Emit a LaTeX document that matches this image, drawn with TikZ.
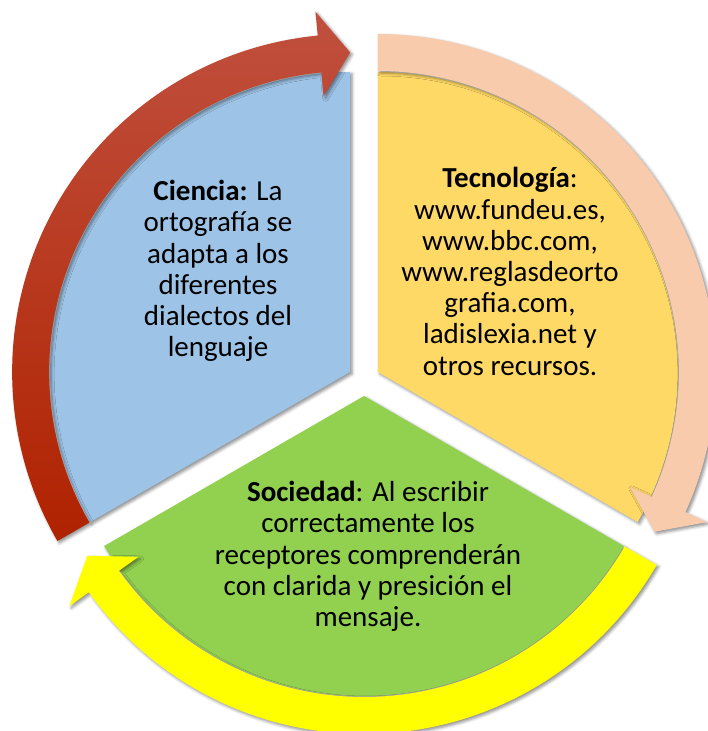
\documentclass[tikz,border=0pt]{standalone}
\usepackage{fontspec}
\setmainfont{Carlito}
\usetikzlibrary{calc,shadows.blur}
\definecolor{cblue}{RGB}{157,195,230}
\definecolor{corange}{RGB}{255,217,102}
\definecolor{cgreen}{RGB}{146,208,80}
\definecolor{cpink}{RGB}{248,203,173}
\definecolor{cyellow}{RGB}{255,255,0}
\definecolor{credtop}{RGB}{192,80,62}
\definecolor{credbot}{RGB}{176,34,0}
\tikzset{
  sector/.style={blur shadow={shadow xshift=2pt,shadow yshift=-2pt,shadow blur radius=3pt,shadow opacity=45}},
  cyclearrow/.style={blur shadow={shadow xshift=2pt,shadow yshift=-2pt,shadow blur radius=3pt,shadow opacity=45}},
  label/.style={align=center,text=black,font=\fontsize{29}{31.2}\selectfont,inner sep=0pt}
}
% arrow: #1 center, #2 start angle, #3 tip angle
\newcommand{\cyclearrowpath}[3]{%
  ([shift={(#1)}]#2:338pt) arc[start angle=#2,end angle=#3+5.5,radius=338pt]
  -- ([shift={(#1)}]#3+5.5:362pt) -- ([shift={(#1)}]#3:319.5pt)
  -- ([shift={(#1)}]#3+5.5:277pt) -- ([shift={(#1)}]#3+5.5:301pt)
  arc[start angle=#3+5.5,end angle=#2,radius=301pt] -- cycle}
\begin{document}
\begin{tikzpicture}[x=1pt,y=1pt]
\useasboundingbox (0,0) rectangle (708,731);
\coordinate (C) at (364,351);
\coordinate (B) at ($(C)+(150:16pt)$);
\coordinate (O) at ($(C)+(30:16pt)$);
\coordinate (G) at ($(C)+(270:16pt)$);
% sectors
\fill[cblue,sector] (B) -- ++(90:300pt) arc[start angle=90,end angle=210,radius=300pt] -- cycle;
\fill[corange,sector] (O) -- ++(90:300pt) arc[start angle=90,end angle=-30,radius=300pt] -- cycle;
\fill[cgreen,sector] (G) -- ++(-30:300pt) arc[start angle=-30,end angle=-150,radius=300pt] -- cycle;
% arrows
\shade[top color=credtop,bottom color=credbot,cyclearrow] \cyclearrowpath{B}{210}{90};
\fill[cpink,cyclearrow] \cyclearrowpath{O}{90}{-30};
\fill[cyellow,cyclearrow] \cyclearrowpath{G}{-30}{-150};
% texts
\node[label] (ciencia) at (218,460) {\textbf{Ciencia:} La\\ortografía se\\adapta a los\\diferentes\\dialectos del\\lenguaje};
\node[label] (tecno) at (510,459.5) {\textbf{Tecnología}:\\www.fundeu.es,\\www.bbc.com,\\www.reglasdeorto\\grafia.com,\\ladislexia.net y\\otros recursos.};
\node[label] (socie) at (368,174.5) {\textbf{Sociedad}: Al escribir\\correctamente los\\receptores comprenderán\\con clarida y presición el\\mensaje.};
\end{tikzpicture}
\end{document}
